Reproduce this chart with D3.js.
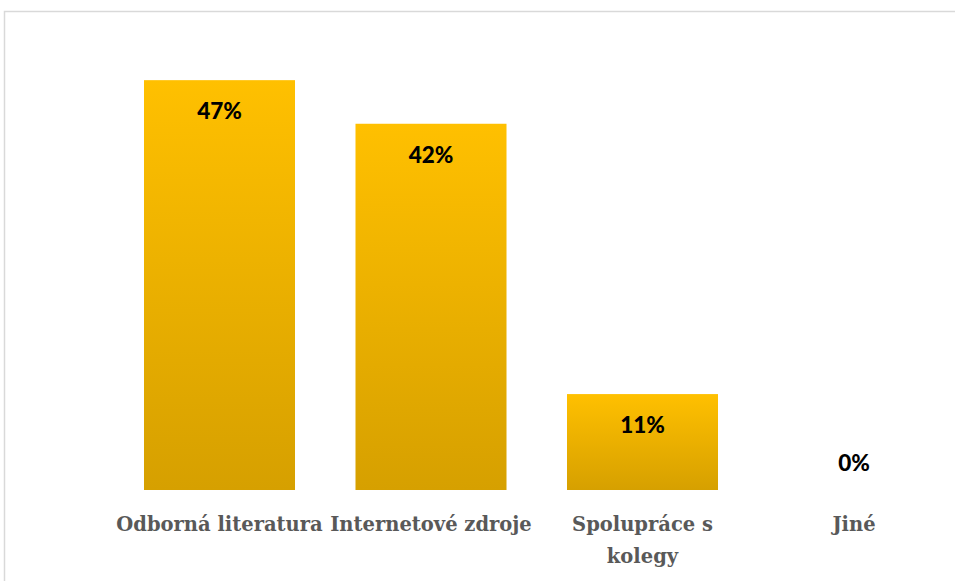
<!DOCTYPE html>
<html>
<head>
<meta charset="utf-8">
<script src="https://cdn.jsdelivr.net/npm/d3@7/dist/d3.min.js"></script>
<style>
  html, body { margin: 0; padding: 0; background: #fff; }
  svg { display: block; }
</style>
</head>
<body>
<svg id="chart" width="955" height="581"></svg>
<script>
// Survey: sources of information
const categories = ["Odborná literatura", "Internetové zdroje", "Spolupráce s kolegy", "Jiné"];
const shares = [47, 42, 11, 0];
const valueLabels = ["47%", "42%", "11%", "0%"];

const svg = d3.select("#chart");
const W = 955, H = 581;

// chart frame
svg.append("rect")
  .attr("x", 4.5).attr("y", 11.5)
  .attr("width", W + 20).attr("height", H + 20)
  .attr("fill", "#fff")
  .attr("stroke", "#d9d9d9").attr("stroke-width", 1.5);

const x = d3.scaleBand()
  .domain(categories)
  .range([113.75, 959.75])
  .paddingInner(0.286)
  .paddingOuter(0.143);

const y = d3.scaleLinear().domain([0, 50]).range([490, 54]);

const defs = svg.append("defs");
const grad = defs.append("linearGradient")
  .attr("id", "barFill")
  .attr("x1", 0).attr("y1", 0).attr("x2", 0).attr("y2", 1);
grad.append("stop").attr("offset", "0%").attr("stop-color", "#ffc000");
grad.append("stop").attr("offset", "100%").attr("stop-color", "#d6a000");

const data = categories.map((c, i) => ({ cat: c, v: shares[i], label: valueLabels[i] }));

svg.append("g").selectAll("rect")
  .data(data)
  .join("rect")
  .attr("x", d => x(d.cat))
  .attr("y", d => y(d.v))
  .attr("width", x.bandwidth())
  .attr("height", d => y(0) - y(d.v))
  .attr("fill", "url(#barFill)");

// value labels
svg.append("g").selectAll("text")
  .data(data)
  .join("text")
  .attr("x", d => x(d.cat) + x.bandwidth() / 2)
  .attr("y", d => d.v > 0 ? y(d.v) + 39 : y(0) - 19)
  .attr("text-anchor", "middle")
  .attr("font-family", "Lato, 'Open Sans', sans-serif")
  .attr("font-weight", 900)
  .attr("font-size", 22.5)
  .attr("fill", "#000")
  .text(d => d.label);

// category axis labels, wrapped to a fixed width
const axisG = svg.append("g");
const wrapWidth = 210;
data.forEach(d => {
  const cx = x(d.cat) + x.bandwidth() / 2;
  const t = axisG.append("text")
    .attr("x", cx)
    .attr("y", 531)
    .attr("text-anchor", "middle")
    .attr("font-family", "'DejaVu Serif', 'Liberation Serif', serif")
    .attr("font-weight", "bold")
    .attr("font-size", 19.5)
    .attr("fill", "#595959");
  const words = d.cat.split(" ");
  let line = [];
  let tspan = t.append("tspan").attr("x", cx).attr("dy", 0);
  words.forEach(w => {
    line.push(w);
    tspan.text(line.join(" "));
    if (tspan.node().getComputedTextLength() > wrapWidth && line.length > 1) {
      line.pop();
      tspan.text(line.join(" "));
      line = [w];
      tspan = t.append("tspan").attr("x", cx).attr("dy", 32).text(w);
    }
  });
});
</script>
</body>
</html>
